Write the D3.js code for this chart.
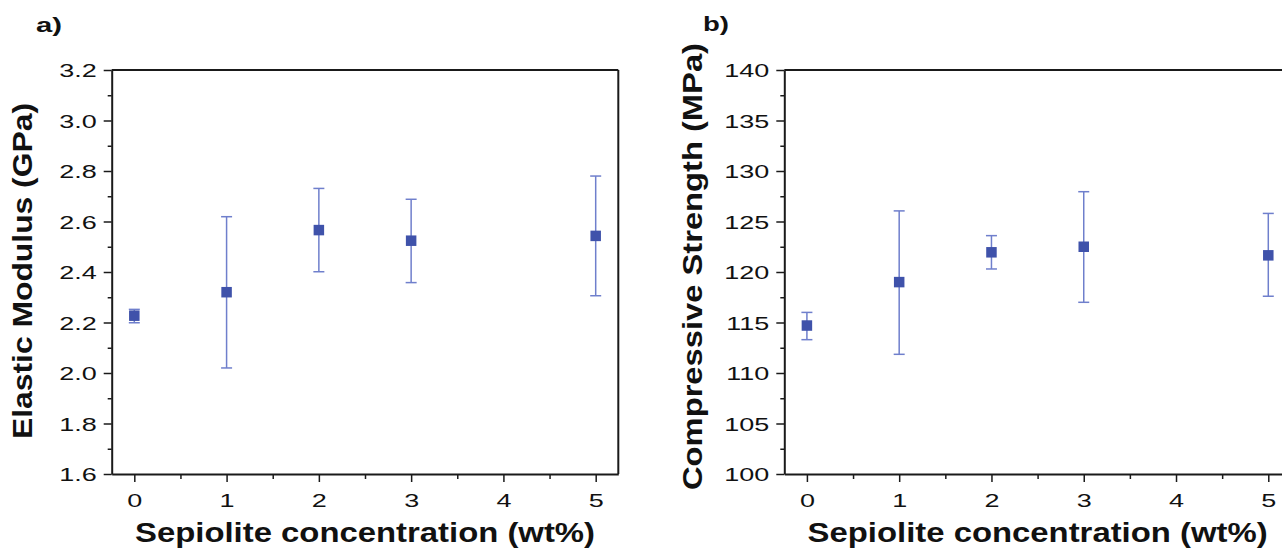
<!DOCTYPE html>
<html>
<head>
<meta charset="utf-8">
<script src="https://cdn.jsdelivr.net/npm/d3@7"></script>
<style>
  body { margin: 0; background: #fff; }
  svg { display: block; }
  text { font-family: "Liberation Sans", Arial, sans-serif; fill: #111; }
</style>
</head>
<body>
<svg id="chart" width="1282" height="557"></svg>
<script>
// sepiolite loading (wt%)
const conc = [0, 1, 2, 3, 5];

// a) elastic modulus (GPa), with error bar ends
const modulus     = [2.227, 2.320, 2.566, 2.524, 2.543];
const modulusLow  = [2.199, 2.020, 2.401, 2.358, 2.306];
const modulusHigh = [2.252, 2.619, 2.731, 2.688, 2.780];

// b) compressive strength (MPa), with error bar ends
const strength     = [114.7, 119.0, 121.95, 122.5, 121.65];
const strengthLow  = [113.3, 111.85, 120.3, 117.0, 117.6];
const strengthHigh = [116.0, 126.05, 123.6, 127.95, 125.8];

const xTicks = [0, 1, 2, 3, 4, 5];
const xMinor = [-0.5, 0.5, 1.5, 2.5, 3.5, 4.5, 5.5];
const modulusTicks = [1.6, 1.8, 2.0, 2.2, 2.4, 2.6, 2.8, 3.0, 3.2];
const modulusMinor = [1.7, 1.9, 2.1, 2.3, 2.5, 2.7, 2.9, 3.1];
const strengthTicks = [100, 105, 110, 115, 120, 125, 130, 135, 140];
const strengthMinor = [102.5, 107.5, 112.5, 117.5, 122.5, 127.5, 132.5, 137.5];

const svg = d3.select('#chart');
const stretch = 1.42;   // the original figure is stretched sideways, so its text is too
const axisColor = '#1a1a1a';
const markColor = '#3f52aa';
const errColor = '#6f7fcc';

function drawPanel(opts) {
    const { left, top, width, height } = opts;
    const g = svg.append('g').attr('transform', `translate(${left},${top})`);

    const x = d3.scaleLinear().domain([-0.245, 5.245]).range([0, width]);
    const y = d3.scaleLinear().domain(opts.yDomain).range([height, 0]);

    // frame: top and right sides without ticks
    g.append('line').attr('x1', 0).attr('x2', width).attr('y1', 0).attr('y2', 0)
        .attr('stroke', axisColor).attr('stroke-width', 2);
    g.append('line').attr('x1', width).attr('x2', width).attr('y1', 0).attr('y2', height)
        .attr('stroke', axisColor).attr('stroke-width', 2);

    // minor ticks
    g.append('g').attr('transform', `translate(0,${height})`)
        .call(d3.axisBottom(x).tickValues(xMinor.filter(v => x(v) >= 0 && x(v) <= width))
            .tickSize(5).tickFormat(''))
        .call(a => a.select('.domain').remove());
    g.append('g')
        .call(d3.axisLeft(y).tickValues(opts.yMinor).tickSize(4).tickFormat(''))
        .call(a => a.select('.domain').remove());

    // major axes
    const xAxis = g.append('g').attr('transform', `translate(0,${height})`)
        .call(d3.axisBottom(x).tickValues(xTicks).tickSize(8).tickSizeOuter(0).tickFormat(d3.format('d')));
    const yAxis = g.append('g')
        .call(d3.axisLeft(y).tickValues(opts.yTicks).tickSize(8).tickSizeOuter(0).tickFormat(opts.yFormat));

    [xAxis, yAxis].forEach(a => {
        a.select('.domain').attr('stroke', axisColor).attr('stroke-width', 2);
        a.selectAll('text').attr('font-size', 19).attr('fill', '#111');
    });
    g.selectAll('.tick line').attr('stroke', axisColor).attr('stroke-width', 1.5);

    xAxis.selectAll('.tick text')
        .attr('y', 0).attr('dy', 0)
        .attr('transform', `translate(0,33) scale(${stretch},1)`);
    yAxis.selectAll('.tick text')
        .attr('x', 0).attr('dy', '0.36em')
        .attr('transform', `translate(-15,0) scale(${stretch},1)`);

    // error bars
    const capW = 5.5;
    const bars = g.append('g').attr('stroke', errColor).attr('stroke-width', 1.5);
    conc.forEach((c, i) => {
        const cx = x(c);
        bars.append('line').attr('x1', cx).attr('x2', cx)
            .attr('y1', y(opts.low[i])).attr('y2', y(opts.high[i]));
        bars.append('line').attr('x1', cx - capW).attr('x2', cx + capW)
            .attr('y1', y(opts.low[i])).attr('y2', y(opts.low[i]));
        bars.append('line').attr('x1', cx - capW).attr('x2', cx + capW)
            .attr('y1', y(opts.high[i])).attr('y2', y(opts.high[i]));
    });

    // square markers
    const s = 10.5;
    g.append('g').selectAll('rect')
        .data(conc)
        .join('rect')
        .attr('x', d => x(d) - s / 2)
        .attr('y', (d, i) => y(opts.values[i]) - s / 2)
        .attr('width', s).attr('height', s)
        .attr('fill', markColor);

    // axis titles
    g.append('text')
        .attr('x', width / 2 - opts.xTitleLen / 2).attr('y', height + 68)
        .attr('font-size', 27).attr('font-weight', 'bold')
        .attr('textLength', opts.xTitleLen).attr('lengthAdjust', 'spacingAndGlyphs')
        .text('Sepiolite concentration (wt%)');

    g.append('text')
        .attr('transform', `translate(${opts.yTitleX},${opts.yTitleMid + opts.yTitleLen / 2}) rotate(-90)`)
        .attr('font-size', 27).attr('font-weight', 'bold')
        .attr('textLength', opts.yTitleLen).attr('lengthAdjust', 'spacingAndGlyphs')
        .text(opts.yTitle);

    // panel label
    svg.append('text')
        .attr('x', opts.labelX).attr('y', opts.labelY)
        .attr('font-size', 21).attr('font-weight', 'bold')
        .attr('textLength', 26).attr('lengthAdjust', 'spacingAndGlyphs')
        .text(opts.label);
}

drawPanel({
    left: 111.7, top: 70, width: 506.6, height: 404,
    yDomain: [1.6, 3.2], yTicks: modulusTicks, yMinor: modulusMinor, yFormat: d3.format('.1f'),
    values: modulus, low: modulusLow, high: modulusHigh,
    xTitleLen: 460,
    yTitle: 'Elastic Modulus (GPa)', yTitleX: 32 - 111.7, yTitleMid: 271 - 70, yTitleLen: 336,
    label: 'a)', labelX: 36, labelY: 32
});

drawPanel({
    left: 784.3, top: 70, width: 506.6, height: 404,
    yDomain: [100, 140], yTicks: strengthTicks, yMinor: strengthMinor, yFormat: d3.format('d'),
    values: strength, low: strengthLow, high: strengthHigh,
    xTitleLen: 460,
    yTitle: 'Compressive Strength (MPa)', yTitleX: 702 - 784.3, yTitleMid: 266.5 - 70, yTitleLen: 447,
    label: 'b)', labelX: 703, labelY: 31
});
</script>
</body>
</html>
